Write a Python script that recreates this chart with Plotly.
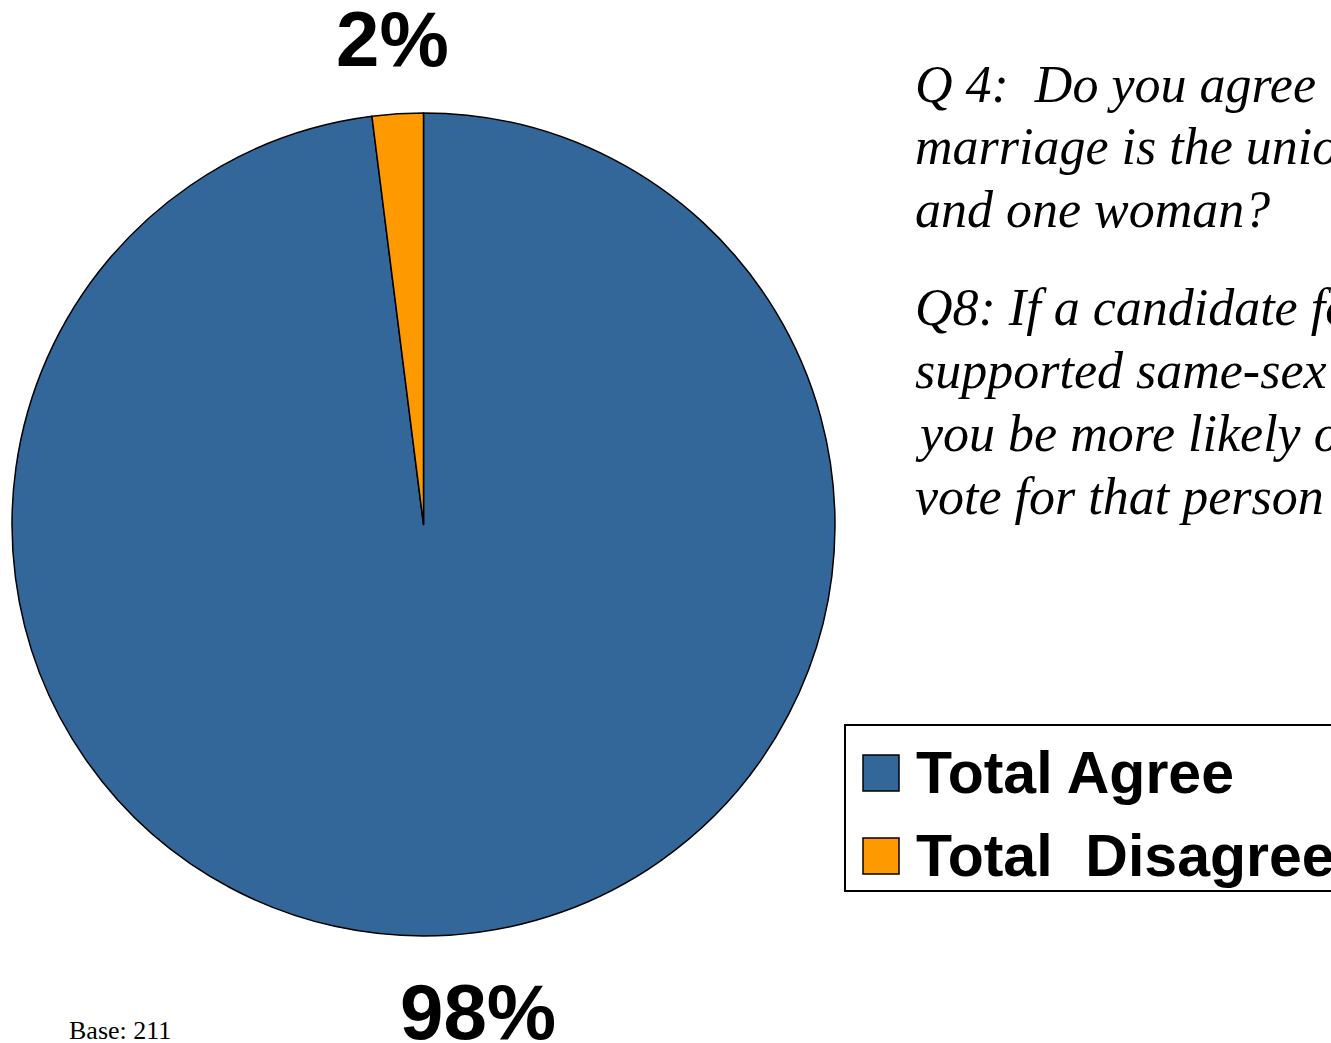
import plotly.graph_objects as go

W, H = 1331, 1043

categories = ["Total Agree", "Total\u00a0 Disagree"]
values = [98, 2]
colors = ["#336699", "#FF9900"]
value_labels = ["98%", "2%"]

q4_lines = ["Q 4:  Do you agree that", "marriage is the union of one man", "and one woman?"]
q8_lines = ["Q8: If a candidate for office", "supported same-sex marriage, would",
            "you be more likely or less likely to", "vote for that person?"]
base_text = "Base: 211"

def px(x):
    return x / W

def py(y):
    return 1 - y / H

fig = go.Figure()
fig.add_trace(go.Pie(
    labels=categories,
    values=values,
    marker=dict(colors=colors, line=dict(color="black", width=1.5)),
    sort=False,
    direction="clockwise",
    rotation=0,
    textinfo="none",
    hoverinfo="label+percent",
    showlegend=False,
    domain=dict(x=[px(12), px(835)], y=[py(936), py(113)]),
))

annotations = []
vfont = dict(family="Liberation Sans, Arial", size=78, color="black")
annotations.append(dict(x=px(392), y=py(39), text="<b>" + value_labels[1] + "</b>", showarrow=False,
                        font=vfont, xanchor="center", yanchor="middle", height=64, valign="middle"))
annotations.append(dict(x=px(478), y=py(1012), text="<b>" + value_labels[0] + "</b>", showarrow=False,
                        font=vfont, xanchor="center", yanchor="middle", height=60, valign="middle"))

qfont = dict(family="Liberation Serif, Times New Roman", size=52, color="black")
for i, line in enumerate(q4_lines):
    annotations.append(dict(x=px(913), y=py(84 + i * 62.5), text="<i>" + line + "</i>",
                            showarrow=False, font=qfont, xanchor="left", yanchor="middle"))
for i, line in enumerate(q8_lines):
    annotations.append(dict(x=px(913), y=py(307 + i * 63), text="<i>" + line + "</i>",
                            showarrow=False, font=qfont, xanchor="left", yanchor="middle"))

annotations.append(dict(x=px(67), y=py(1030), text=base_text, showarrow=False,
                        font=dict(family="Liberation Serif, Times New Roman", size=26, color="black"),
                        xanchor="left", yanchor="middle"))

# custom legend
shapes = [dict(type="rect", xref="paper", yref="paper",
               x0=px(845), x1=px(1340), y0=py(891), y1=py(725),
               line=dict(color="black", width=2), fillcolor="white", layer="below")]
leg_y = [773, 856]
for cat, col, yy in zip(categories, colors, leg_y):
    shapes.append(dict(type="rect", xref="paper", yref="paper",
                       x0=px(863), x1=px(899), y0=py(yy + 18), y1=py(yy - 18),
                       line=dict(color="black", width=1.5), fillcolor=col))
    annotations.append(dict(x=px(914), y=py(yy), text="<b>" + cat + "</b>", showarrow=False,
                            font=dict(family="Liberation Sans, Arial", size=59, color="black"),
                            xanchor="left", yanchor="middle"))

fig.update_layout(
    width=W, height=H,
    margin=dict(l=0, r=0, t=0, b=0),
    paper_bgcolor="white", plot_bgcolor="white",
    annotations=annotations,
    shapes=shapes,
)

fig.write_html("out.html", config={"displayModeBar": False},
               post_script="document.body.style.margin='0';document.body.style.overflow='hidden';")
